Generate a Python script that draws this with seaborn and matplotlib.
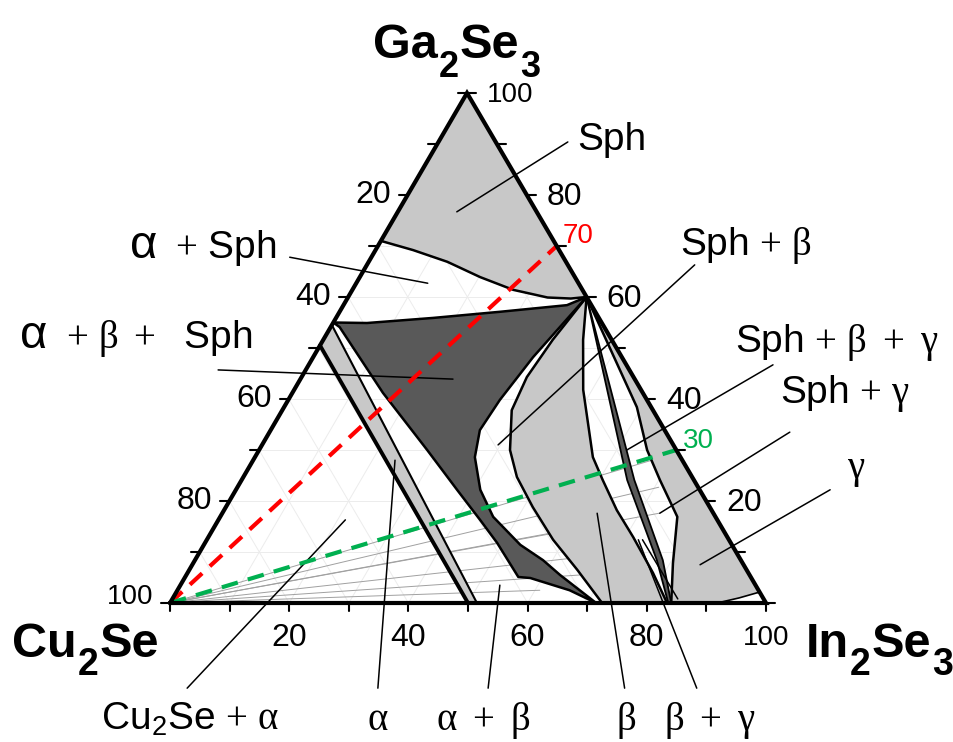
import numpy as np
import pandas as pd
import matplotlib
matplotlib.use("Agg")
import matplotlib.pyplot as plt
import matplotlib.transforms as mtransforms
import seaborn as sns

# ---------------- data: compositions as (In2Se3 %, Ga2Se3 %); Cu2Se = remainder ----------------
sph_boundary = [(0, 71), (6.3, 69.2), (13.2, 66.9), (20.2, 63.9), (27.0, 61.4),
                (33.5, 59.9), (37.5, 59.7), (40, 60)]
dark_region = [(0, 55), (5.7, 54.9), (16.3, 55.9), (26.9, 57.1), (37.5, 58.4), (40, 60),
               (36.9, 48.2), (35.5, 39.8), (35.1, 33.9), (36.9, 28.6), (41.0, 22.2),
               (45.8, 16.9), (53.1, 11.4), (58.4, 8.4), (62.7, 5.5), (71.5, 0),
               (65.8, 2.5), (58.0, 4.9), (55.9, 5.1), (49.0, 11.8), (43.9, 16.3),
               (37.1, 22.2), (28.2, 30.0), (15.2, 41.2), (1.5, 54.1)]
alpha_left = [(0, 50.5), (50, 0)]
alpha_right = [(0, 54.5), (51.5, 0)]
beta_left = [(40, 60), (38.5, 51.6), (37.8, 44.3), (38.5, 37.8), (42.1, 30.0), (45.9, 24.7),
             (51.5, 18.8), (58.1, 12.4), (65.1, 6.5), (72.5, 0)]
beta_right = [(40, 60), (43.6, 51.6), (48.5, 41.8), (56.7, 28.6), (60.6, 24.1), (65.9, 18.2),
              (71.3, 12.9), (78.1, 5.9), (83.4, 0)]
band_left = [(40, 60), (64.7, 24.1), (77.5, 8.4), (83.6, 0)]
band_right = [(40, 60), (65.9, 24.1), (78.5, 8.4), (84.1, 0)]
gamma_left = [(40, 60), (59.2, 38.4), (65.1, 30.0), (70.2, 24.1), (76.7, 16.9), (80.5, 7.8), (84.1, 0)]
gamma_bottom = [(84.1, 0), (91.8, 0), (95.0, 1.0), (97.5, 2.0), (98, 2)]

tie_ends = [(69.3, 29.0), (70.7, 22.7), (73.3, 17.6), (58.5, 13.9), (67.5, 9.4), (66.1, 5.5), (60.8, 2.5)]
red_guide = [(0, 0), (30, 70)]
green_guide = [(0, 0), (70, 30)]

leaders = [((21.7, 90.4), (9.9, 76.7)),      # Sph
           ((-13.7, 67.8), (12.0, 62.7)),    # a + Sph
           ((-14.7, 45.7), (25.6, 43.9)),    # a + b + Sph
           ((55.0, 66.3), (39.6, 31.0)),     # Sph + b
           ((77.9, 46.7), (61.7, 30.0)),     # Sph + b + g
           ((87.3, 33.5), (73.4, 17.6)),     # Sph + g
           ((99.7, 22.2), (85.2, 7.5)),      # g
           ((11.2, -16.7), (21.3, 16.3)),    # Cu2Se + a
           ((43.2, -16.7), (23.8, 28.0)),    # a
           ((61.7, -16.7), (53.6, 3.5)),     # a + b
           ((84.6, -16.7), (62.9, 17.6)),    # b
           ((96.7, -16.7), (72.4, 12.4)),    # b + g
           ((84.8, 0.8), (73.1, 12.4))]

tick_values = list(range(0, 101, 10))
tick_labels = [20, 40, 60, 80, 100]

# ---------------- style ----------------
sns.set_theme(style="white")
plt.rcParams['font.family'] = ['Liberation Sans', 'DejaVu Sans']
plt.rcParams['text.color'] = 'black'
plt.rcParams['mathtext.fontset'] = 'custom'
plt.rcParams['mathtext.rm'] = 'Liberation Serif'
plt.rcParams['mathtext.it'] = 'Liberation Serif'
plt.rcParams['mathtext.bf'] = 'Liberation Serif:bold'
plt.rcParams['mathtext.sf'] = 'Liberation Sans'

W, H = 954, 742
PX = 5.96
fig = plt.figure(figsize=(W / 100, H / 100), dpi=100)
ax = fig.add_axes([0, 0, 1, 1])
ax.set_xlim(-170 / PX, (W - 170) / PX)
ax.set_ylim(-(H - 603) / PX, 603 / PX)
ax.axis('off')
pix = mtransforms.Affine2D().scale(1 / W, -1 / H).translate(0, 1) + fig.transFigure
renderer = fig.canvas.get_renderer()

KX, KY = 297 / 596, 510 / 596


def tern(pts):
    arr = np.asarray(pts, float)
    a, g = arr[:, 0], arr[:, 1]
    return a + KX * g, KY * g


LIGHT = '#c8c8c8'
DARK = '#595959'

# faint grid
for v in range(10, 100, 10):
    for seg in ([(0, v), (100 - v, v)], [(v, 0), (v, 100 - v)], [(100 - v, 0), (0, 100 - v)]):
        x, y = tern(seg)
        ax.plot(x, y, color='#ececec', lw=0.7, zorder=0)

# tie lines
for e in tie_ends:
    x, y = tern([(0, 0), e])
    ax.plot(x, y, color='#a0a0a0', lw=0.7, zorder=1)

# fills
ax.fill(*tern([(0, 100)] + sph_boundary), color=LIGHT, lw=0, zorder=2)
ax.fill(*tern(dark_region), color=DARK, lw=0, zorder=2)
ax.fill(*tern(alpha_left + alpha_right[::-1]), color=LIGHT, lw=0, zorder=2)
ax.fill(*tern(beta_left + beta_right[::-1]), color=LIGHT, lw=0, zorder=2)
ax.fill(*tern(gamma_left + gamma_bottom[1:]), color=LIGHT, lw=0, zorder=2)
ax.fill(*tern(band_left + band_right[::-1]), color=DARK, lw=0, zorder=2)


# boundaries
def bline(pts, lw=1.8, closed=False):
    p = list(pts) + ([pts[0]] if closed else [])
    x, y = tern(p)
    ax.plot(x, y, color='black', lw=lw, zorder=4, solid_joinstyle='round')


bline(sph_boundary)
bline(dark_region, closed=True)
bline(alpha_left, lw=2.8)
bline(alpha_right, lw=1.5)
bline(beta_left)
bline(beta_right)
bline(band_left, lw=1.3)
bline(band_right, lw=1.3)
bline(gamma_left)
bline(gamma_bottom[1:], lw=1.2)

# guide lines (seaborn)
for pts, col in ((red_guide, '#ff0000'), (green_guide, '#00b050')):
    x, y = tern(pts)
    df = pd.DataFrame({'X': x, 'Y': y})
    sns.lineplot(data=df, x='X', y='Y', ax=ax, color=col, lw=3, sort=False,
                 dashes=False, legend=False, zorder=6)
    ax.lines[-1].set_dashes((4, 2.5))

# leaders
for s, e in leaders:
    x, y = tern([s, e])
    ax.plot(x, y, color='black', lw=1.1, zorder=5)

# triangle frame
x, y = tern([(0, 0), (100, 0), (0, 100), (0, 0)])
ax.plot(x, y, color='black', lw=3, zorder=7, solid_joinstyle='miter')

# ticks
for t in tick_values:
    x, y = tern([(t, 0)])
    ax.plot([x[0], x[0]], [0, -8 / PX], color='black', lw=1.5, zorder=7)
    x, y = tern([(0, 100 - t)])
    ax.plot([x[0], x[0] - 9 / PX], [y[0], y[0]], color='black', lw=1.5, zorder=7)
    x, y = tern([(100 - t, t)])
    ax.plot([x[0], x[0] + 9 / PX], [y[0], y[0]], color='black', lw=1.5, zorder=7)

for t in tick_labels:
    fs = 20 if t == 100 else 23
    x, y = tern([(t, 0)])
    ax.text(x[0], -35 / PX, str(t), ha='center', va='center', fontsize=fs)
    x, y = tern([(0, 100 - t)])
    ax.text(x[0] - 17 / PX, y[0] + (1 if t == 100 else 0), str(t), ha='right', va='center', fontsize=fs)
    x, y = tern([(100 - t, t)])
    ax.text(x[0] + 20 / PX, y[0] - 2 / PX, str(t), ha='left', va='center', fontsize=fs)


# text labels (pixel layout)
def lab(s, x, y, ha='left', size=28, **kw):
    ax.text(x, y, s, transform=pix, ha=ha, va='baseline', fontsize=size, **kw)


def compound(pieces, x0, base, main=35, sub=27, drop=18):
    """Bold formula built from pieces; odd-index pieces are subscripts."""
    x = x0
    for i, p in enumerate(pieces):
        is_sub = i % 2 == 1
        t = ax.text(x, base + (drop if is_sub else 0), p, transform=pix, ha='left',
                    va='baseline', fontsize=sub if is_sub else main, fontweight='bold')
        bb = t.get_window_extent(renderer)
        x = bb.x1 + 1


compound(["Ga", "2", "Se", "3"], 373, 58, sub=26, drop=19)
compound(["Cu", "2", "Se"], 12, 657)
compound(["In", "2", "Se", "3"], 806, 657)

lab("Sph", 612, 150, 'center')
lab("α", 130, 258, 'left', 34)
lab(r"$+$ Sph", 175, 258)
lab("α", 20, 348, 'left', 34)
lab(r"$+\ \beta\ +$  Sph", 66, 348)
lab(r"Sph $+\ \beta$", 680, 255)
lab(r"Sph $+\ \beta\ +\ \gamma$", 735, 352)
lab(r"Sph $+\ \gamma$", 780, 403)
lab(r"$\gamma$", 856, 478, 'center')
lab(r"Cu$\mathregular{_2}$Se $+\ \alpha$", 190, 730, 'center')
lab(r"$\alpha$", 378, 730, 'center')
lab(r"$\alpha\ +\ \beta$", 483, 730, 'center')
lab(r"$\beta$", 626, 730, 'center')
lab(r"$\beta\ +\ \gamma$", 710, 730, 'center')
lab("70", 563, 243, 'left', 20, color='#ff0000')
lab("30", 683, 448, 'left', 20, color='#00b050')

fig.savefig("out.png", dpi=100)
